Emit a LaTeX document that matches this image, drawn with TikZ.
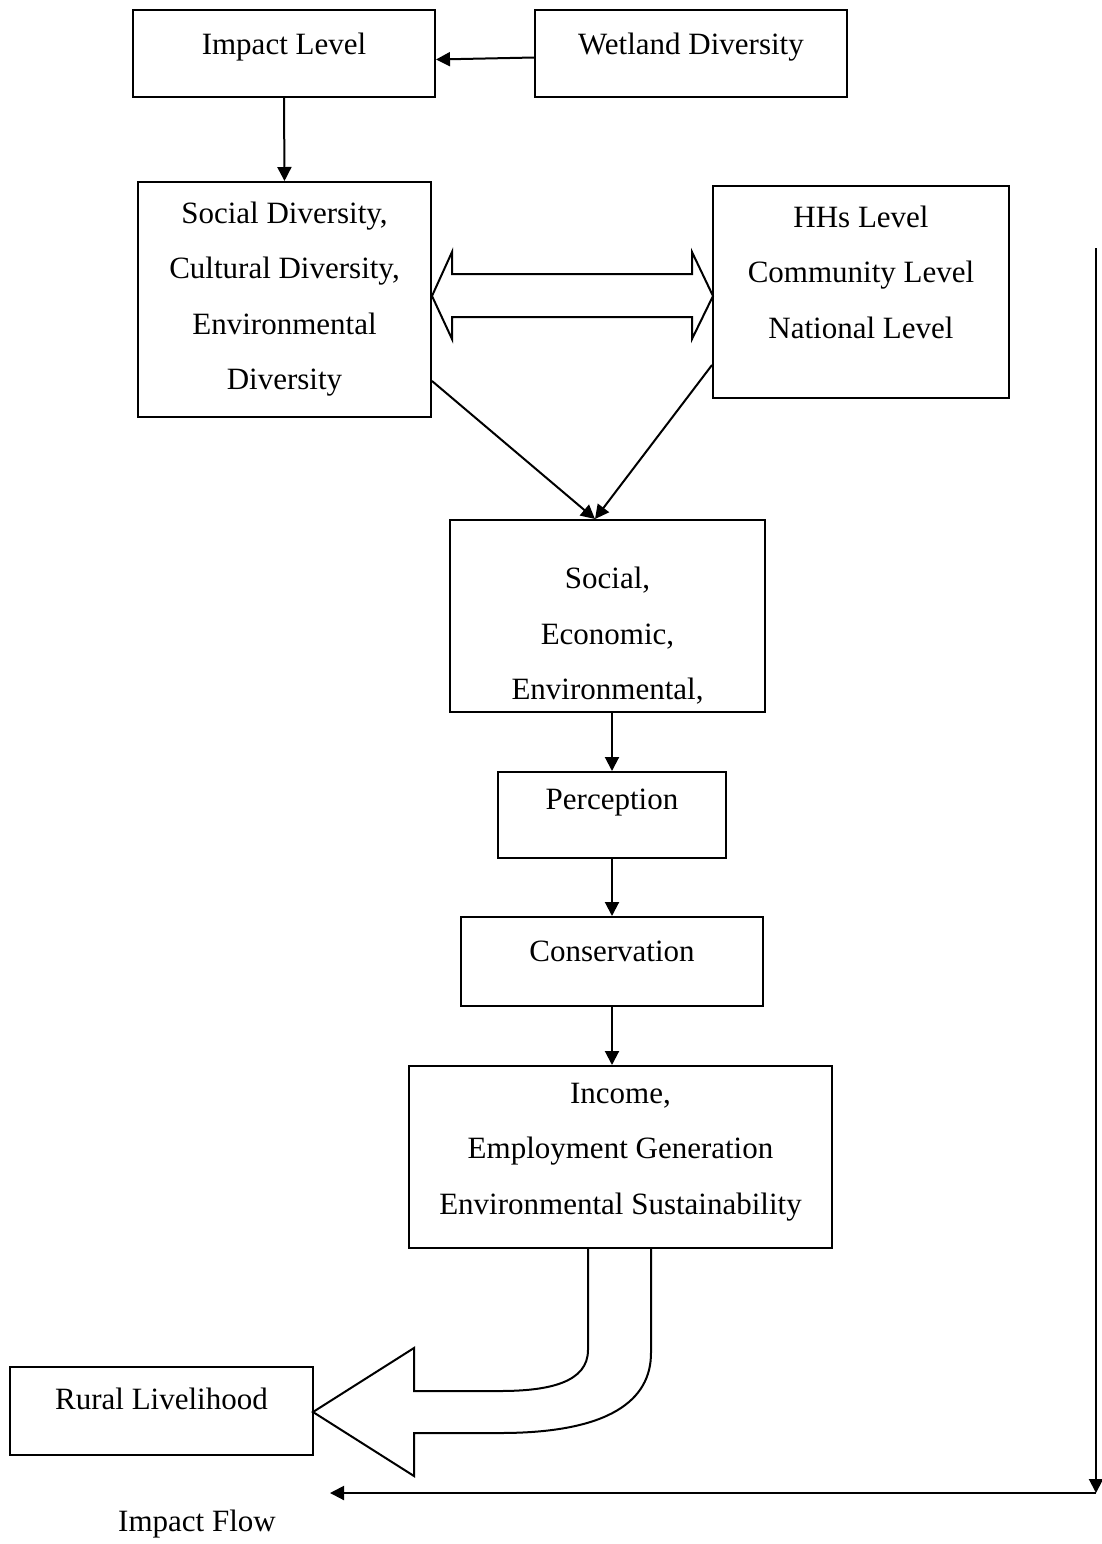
\documentclass[tikz,border=0pt]{standalone}
\usepackage{fontspec}
\setmainfont{Liberation Serif}
\usetikzlibrary{arrows.meta,calc}
\begin{document}
\begin{tikzpicture}[x=0.5pt,y=-0.5pt,
  box/.style={draw,line width=1pt,inner sep=0pt},
  txt/.style={inner sep=0pt,align=center,font=\fontsize{15.5}{27.75}\selectfont},
  arr/.style={line width=1pt,-{Triangle[length=7pt,width=7pt]}},
  fat/.style={draw,line width=1pt,fill=white,line join=miter}]
\useasboundingbox (0,0) rectangle (1102,1544);
% bent arrow (drawn first so the box edge stays on top)
\draw[fat] (588,1248) -- (588,1350) .. controls (588,1382) and (550,1391) .. (500,1391)
  -- (414,1391) -- (414,1348) -- (313,1412) -- (414,1476) -- (414,1433) -- (500,1433)
  .. controls (610,1433) and (651,1400) .. (651,1353) -- (651,1248);
% boxes
\node[box,minimum width=151pt,minimum height=43.5pt] (imp) at (284,53.5) {};
\node[box,minimum width=156pt,minimum height=43.5pt] (wet) at (691,53.5) {};
\node[box,minimum width=146.5pt,minimum height=117.5pt] (soc) at (284.5,299.5) {};
\node[box,minimum width=148pt,minimum height=106pt] (hhs) at (861,292) {};
\node[box,minimum width=157.5pt,minimum height=96pt] (sec) at (607.5,616) {};
\node[box,minimum width=114pt,minimum height=43pt] (perc) at (612,815) {};
\node[box,minimum width=151pt,minimum height=44.5pt] (cons) at (612,961.5) {};
\node[box,minimum width=211.5pt,minimum height=91pt] (inc) at (620.5,1157) {};
\node[box,minimum width=151.5pt,minimum height=44pt] (rural) at (161.5,1411) {};
% texts
\node[txt] (timp) at (284,47) {Impact Level};
\node[txt] (twet) at (691,47) {Wetland Diversity};
\node[txt] (tsoc) at (284.5,299) {Social Diversity,\\Cultural Diversity,\\Environmental\\Diversity};
\node[txt] (thhs) at (861,272) {HHs Level\\Community Level\\National Level};
\node[txt] (tsec) at (607.5,636) {Social,\\Economic,\\Environmental,};
\node[txt] (tperc) at (612,803) {Perception};
\node[txt] (tcons) at (612,951) {Conservation};
\node[txt] (tinc) at (620.5,1152) {Income,\\Employment Generation\\Environmental Sustainability};
\node[txt] (trural) at (161.5,1399) {Rural Livelihood};
\node[txt] (tflow) at (197,1524) {Impact Flow};
% connectors
\draw[arr] ([yshift=-2pt]wet.west) -- ([yshift=-3pt]imp.east);
\draw[arr] (imp.south) -- (soc.north);
\draw[arr] ([yshift=18.5pt]soc.south east) -- ([xshift=-6.25pt]sec.north);
\draw[arr] ([yshift=-36.5pt]hhs.west) -- ([xshift=-6.25pt]sec.north);
\draw[arr] (sec.south -| perc.center) -- (perc.north);
\draw[arr] (perc.south) -- (cons.north);
\draw[arr] (cons.south) -- (cons.south |- inc.north);
% double arrow
\draw[fat] (432,296) -- (452,252) -- (452,274) -- (692,274) -- (692,252) -- (713,296)
  -- (692,339) -- (692,317) -- (452,317) -- (452,339) -- cycle;
% impact flow line
\coordinate (ftop) at (1096,248);
\coordinate (fcorner) at (1096,1493);
\coordinate (fend) at (330,1493);
\draw[arr] (ftop) -- (fcorner);
\draw[arr] (fcorner) -- (fend);
\end{tikzpicture}
\end{document}
